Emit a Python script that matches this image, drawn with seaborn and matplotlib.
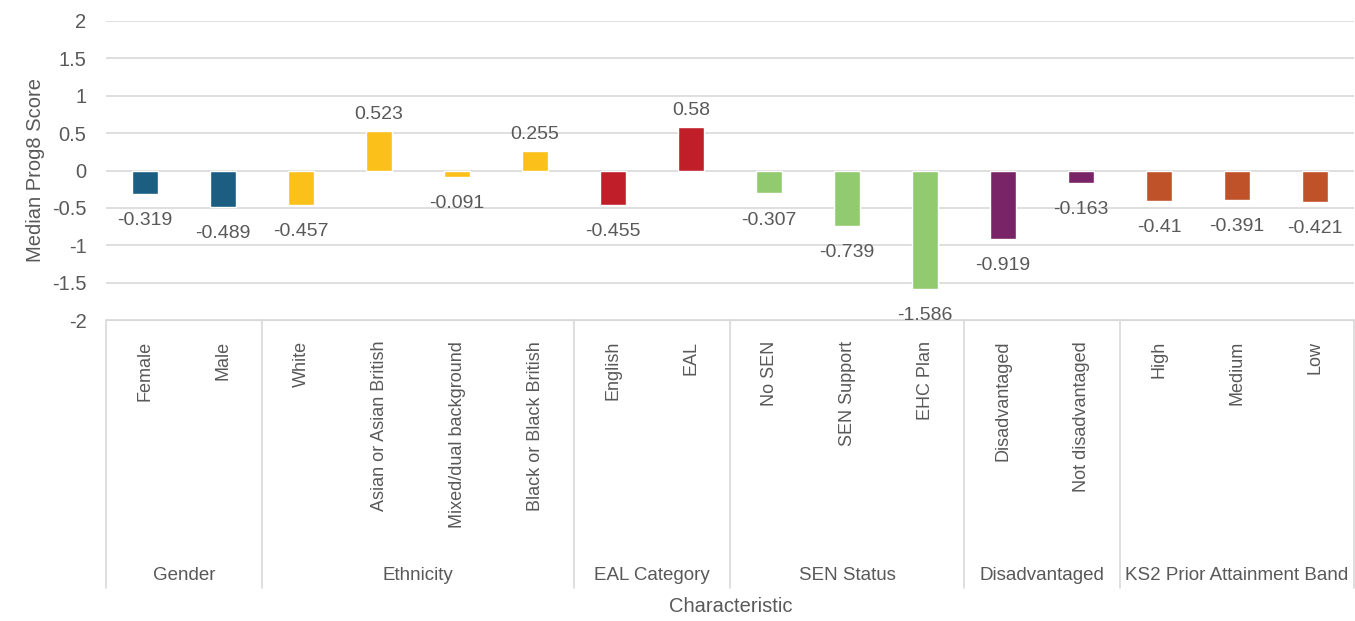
import pandas as pd
import matplotlib.pyplot as plt
import matplotlib.transforms as mtransforms
import seaborn as sns

# data
categories = ['Female', 'Male', 'White', 'Asian or Asian British', 'Mixed/dual background',
              'Black or Black British', 'English', 'EAL', 'No SEN', 'SEN Support', 'EHC Plan',
              'Disadvantaged', 'Not disadvantaged', 'High', 'Medium', 'Low']
groups = ['Gender', 'Gender', 'Ethnicity', 'Ethnicity', 'Ethnicity', 'Ethnicity',
          'EAL Category', 'EAL Category', 'SEN Status', 'SEN Status', 'SEN Status',
          'Disadvantaged', 'Disadvantaged', 'KS2 Prior Attainment Band',
          'KS2 Prior Attainment Band', 'KS2 Prior Attainment Band']
values = [-0.319, -0.489, -0.457, 0.523, -0.091, 0.255, -0.455, 0.58,
          -0.307, -0.739, -1.586, -0.919, -0.163, -0.41, -0.391, -0.421]
group_order = ['Gender', 'Ethnicity', 'EAL Category', 'SEN Status', 'Disadvantaged',
               'KS2 Prior Attainment Band']
group_colors = ['#1b5e82', '#fcc01a', '#c01f2a', '#92cb6f', '#7a2468', '#c0522a']

df = pd.DataFrame({'Category': categories, 'Group': groups, 'Score': values})

sns.set_style('white')
plt.rcParams['font.family'] = ['Liberation Sans', 'DejaVu Sans']
txt = '#595959'

fig = plt.figure(figsize=(13.55, 6.21), dpi=100)
ax = fig.add_axes([106 / 1355, 1 - 320 / 621, 1248 / 1355, 299 / 621])

sns.barplot(data=df, x='Category', y='Score', hue='Group', hue_order=group_order,
            palette=dict(zip(group_order, group_colors)), dodge=False, width=0.33,
            saturation=1, legend=False, ax=ax)

# value labels: a bit more room below the negative bars, like the original
for c in ax.containers:
    vals = c.datavalues
    ax.bar_label(c, labels=[f'{v:g}' if v >= 0 else '' for v in vals],
                 padding=6, fontsize=14, color=txt)
    ax.bar_label(c, labels=[f'{v:g}' if v < 0 else '' for v in vals],
                 padding=13, fontsize=14, color=txt)

ax.set_ylim(-2, 2)
ax.set_xlim(-0.5, len(categories) - 0.5)
ax.set_yticks([-2, -1.5, -1, -0.5, 0, 0.5, 1, 1.5, 2])
ax.set_yticklabels(['-2', '-1.5', '-1', '-0.5', '0', '0.5', '1', '1.5', '2'])
ax.yaxis.grid(True, color='#d9d9d9', lw=1.2)
ax.set_axisbelow(True)
for s in ['left', 'right', 'top']:
    ax.spines[s].set_visible(False)
ax.spines['bottom'].set_color('#d9d9d9')
ax.tick_params(axis='y', length=0, labelsize=14.5, labelcolor=txt, pad=14)
ax.tick_params(axis='x', length=0, labelsize=13, labelcolor=txt, pad=15)
ax.set_xticks(range(len(categories)))
ax.set_xticklabels(categories, rotation=90, va='top', ha='center')
ax.set_ylabel('Median Prog8 Score', fontsize=14.5, color=txt, labelpad=5)
ax.set_xlabel('')

# group separators and labels below the axis
trans = mtransforms.blended_transform_factory(ax.transData, ax.transAxes)
bottom = -(588 - 320) / 299
start = 0
bounds = [-0.5]
for g in group_order:
    n = groups.count(g)
    ax.text(start + (n - 1) / 2, -(575 - 320) / 299, g, transform=trans, ha='center',
            va='center', fontsize=13.5, color=txt)
    start += n
    bounds.append(start - 0.5)
for b in bounds:
    ax.plot([b, b], [0, bottom], transform=trans, color='#d9d9d9', lw=1.2, clip_on=False)

fig.text(731 / 1355, 1 - 606 / 621, 'Characteristic', ha='center', va='center',
         fontsize=14.5, color=txt)

plt.savefig('out.png')
